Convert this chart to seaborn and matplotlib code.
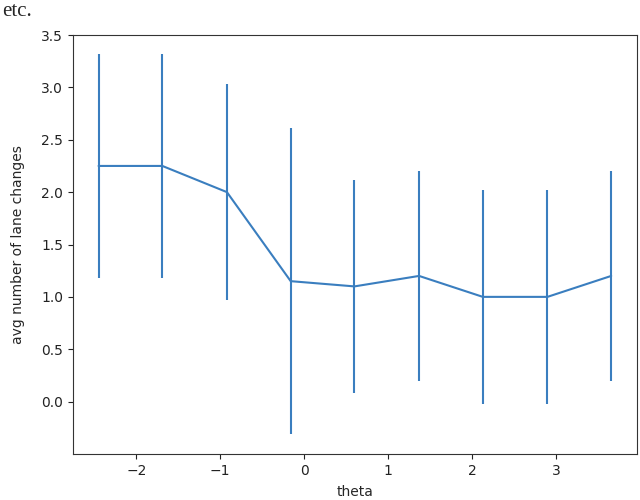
import matplotlib
matplotlib.use("Agg")
import matplotlib.pyplot as plt
import seaborn as sns
import pandas as pd

theta = [-2.45, -1.69, -0.92, -0.16, 0.60, 1.37, 2.13, 2.90, 3.66]
avg_lane_changes = [2.25, 2.25, 2.0, 1.15, 1.1, 1.2, 1.0, 1.0, 1.2]
std_lane_changes = [1.07, 1.07, 1.03, 1.46, 1.02, 1.0, 1.02, 1.02, 1.0]

sns.set_style("ticks")
plt.rcParams['font.family'] = ['DejaVu Sans']

df = pd.DataFrame({"theta": theta, "avg": avg_lane_changes, "std": std_lane_changes})

fig = plt.figure(figsize=(6.4, 5.0), dpi=100)
ax = fig.add_axes([0.114, 0.092, 0.881, 0.838])
color = "#3a7ebf"
sns.lineplot(data=df, x="theta", y="avg", ax=ax, color=color, linewidth=1.5)
ax.errorbar(df["theta"], df["avg"], yerr=df["std"], fmt="none", ecolor=color, elinewidth=1.5)

ax.set_ylim(-0.5, 3.5)
ax.set_xlim(-2.755, 3.965)
ax.set_xticks([-2, -1, 0, 1, 2, 3])
ax.set_yticks([0.0, 0.5, 1.0, 1.5, 2.0, 2.5, 3.0, 3.5])
ax.set_xlabel("theta", fontsize=10, labelpad=5)
ax.set_ylabel("avg number of lane changes", fontsize=10, labelpad=12)
ax.tick_params(labelsize=10, colors="#222222")
for s in ax.spines.values():
    s.set_color("#333333")
    s.set_visible(True)

fig.text(0.003, 0.996, "etc.", fontsize=15, family="Liberation Serif", va="top", ha="left")

fig.savefig("out.png", dpi=100)
